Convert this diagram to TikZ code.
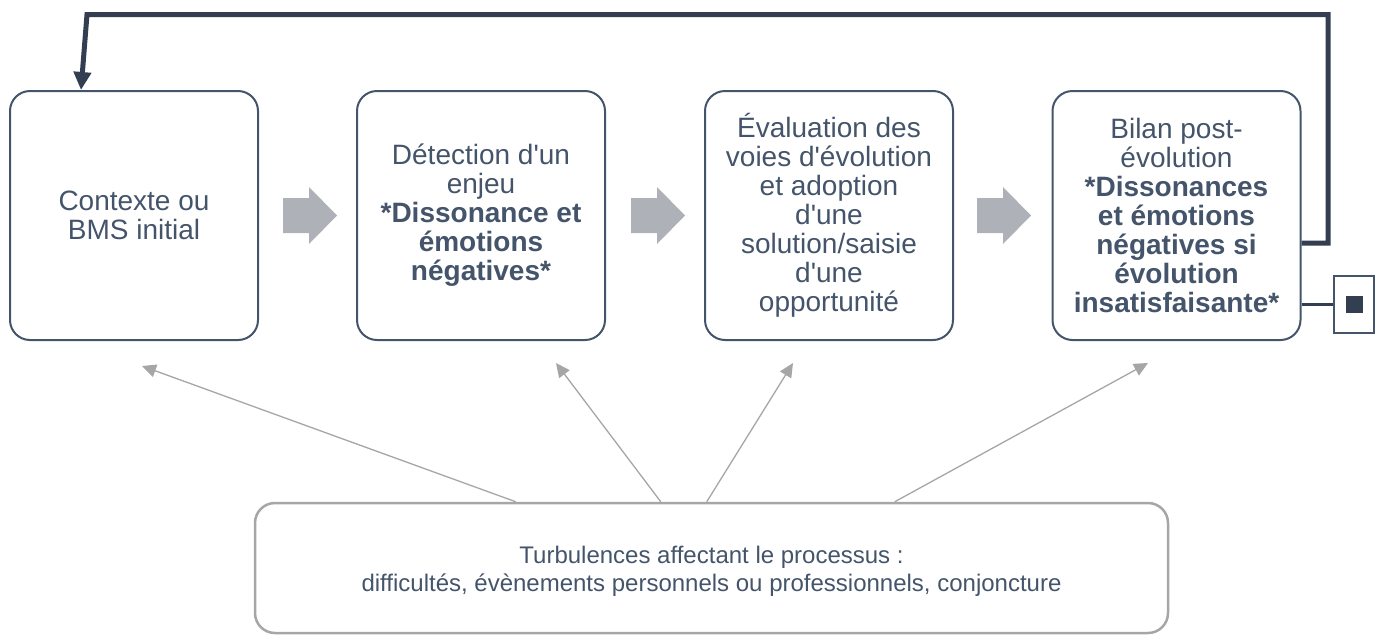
\documentclass[tikz,border=0pt]{standalone}
\usepackage{fontspec}
\newfontfamily\arial{Liberation Sans}
\usetikzlibrary{arrows.meta,calc}
\definecolor{txt}{HTML}{44546A}
\definecolor{dark}{HTML}{333F50}
\definecolor{blockgray}{HTML}{AEB1B7}
\definecolor{thin}{HTML}{A6A6A6}
\begin{document}
\begin{tikzpicture}[x=1pt,y=-1pt,
  stage/.style={draw=txt, line width=2pt, rounded corners=20pt, minimum width=248pt,
    minimum height=249pt, align=center, text=txt, inner sep=0pt,
    font=\arial\fontsize{28}{29}\selectfont},
  turbbox/.style={draw=thin, line width=2.5pt, rounded corners=20pt, minimum width=913pt,
    minimum height=130pt, inner sep=0pt},
  turbtext/.style={align=center, text=txt, inner sep=0pt,
    font=\arial\fontsize{24}{28}\selectfont},
  feedback/.style={draw=dark, line width=5pt, line join=miter,
    -{Triangle[length=18pt,width=17pt]}},
  influence/.style={draw=thin, line width=1.3pt, -{Triangle[length=14pt,width=13pt]}},
  blockarrow/.style={fill=blockgray, draw=none}
]
\useasboundingbox (0,0) rectangle (1381,635);

\node[stage] (b1) at (134,215.5) {Contexte ou\\BMS initial};
\node[stage] (b2) at (481,215.5) {Détection d'un\\enjeu\\\textbf{*Dissonance et}\\\textbf{émotions}\\\textbf{négatives*}};
\node[stage] (b3) at (829,215.5) {Évaluation des\\voies d'évolution\\et adoption\\d'une\\solution/saisie\\d'une\\opportunité};
\node[stage] (b4) at (1176.5,215.5) {Bilan post-\\évolution\\\textbf{*Dissonances}\\\textbf{et émotions}\\\textbf{négatives si}\\\textbf{évolution}\\\textbf{insatisfaisante*}};

% block arrows between stages
\foreach \x in {283,631,977}{
  \path[blockarrow] (\x,198) -- (\x+26,198) -- (\x+26,187) -- (\x+54,215.5)
    -- (\x+26,244) -- (\x+26,233) -- (\x,233) -- cycle;
}

% feedback loop
\coordinate (fbA) at (1328,243);
\coordinate (fbB) at (1328,14.5);
\coordinate (fbC) at (87,14.5);
\draw[feedback] ($(b4.east)+(0,27.5)$) -- (fbA) -- (fbB) -- (fbC) -- ($(b1.north west)+(72,0)$);

% end marker
\node[draw=txt, line width=1.5pt, minimum width=40pt, minimum height=57pt, inner sep=0pt] (sq) at (1354,304.5) {};
\node[fill=dark, minimum size=17pt, inner sep=0pt] (sqin) at (sq.center) {};
\draw[dark, line width=3pt] ($(b4.east)+(0,89)$) -- (sq.west);

% turbulences
\node[turbbox] (turb) at (711.5,568) {};
\node[turbtext] (tt) at ($(turb.center)+(0,3)$) {Turbulences affectant le processus :\\difficultés, évènements personnels ou professionnels, conjoncture};

\coordinate (e1) at (142,366);
\coordinate (e2) at (556,363);
\coordinate (e3) at (793,363);
\coordinate (e4) at (1148,363);
\draw[influence] ($(turb.north west)+(262,0)$) -- (e1);
\draw[influence] ($(turb.north west)+(407,0)$) -- (e2);
\draw[influence] ($(turb.north west)+(453,0)$) -- (e3);
\draw[influence] ($(turb.north west)+(641,0)$) -- (e4);
\end{tikzpicture}
\end{document}
